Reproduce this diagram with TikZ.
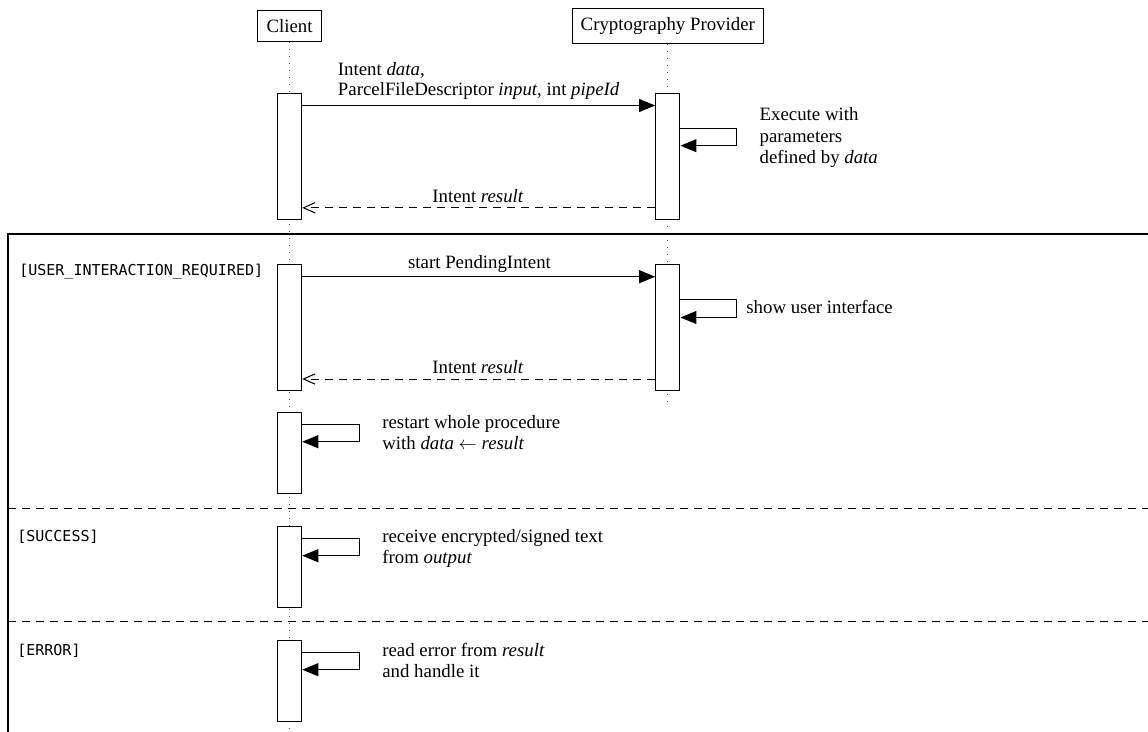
\documentclass[tikz,border=0pt]{standalone}
\usepackage{fontspec}
\setmainfont{Liberation Serif}
\setmonofont{DejaVu Sans Mono}
\usetikzlibrary{arrows.meta}
\begin{document}
\begin{tikzpicture}[x=0.6pt,y=-0.6pt,
  every node/.style={font=\fontsize{11.3}{12.3}\selectfont},
  actor/.style={draw, line width=0.6pt, inner xsep=5.2pt, inner ysep=5.4pt, fill=white},
  act/.style={draw, line width=0.6pt, fill=white, minimum width=14.6pt, inner sep=0pt},
  life/.style={line width=0.6pt, dash pattern=on 0.6pt off 3.6pt, black!70},
  msg/.style={line width=0.6pt, -{Triangle[length=9.6pt,width=7.8pt]}},
  ret/.style={line width=0.6pt, dash pattern=on 4.8pt off 3.6pt, -{Straight Barb[length=7pt,width=6.2pt]}},
  lbl/.style={inner sep=0pt, align=left, anchor=north west},
  txt/.style={inner sep=0pt, anchor=base west},
  guard/.style={inner sep=0pt, anchor=base west, font=\ttfamily\fontsize{9}{11}\selectfont},
  frame/.style={line width=1.1pt},
  sep/.style={line width=0.6pt, dash pattern=on 4.8pt off 3.6pt},
]
\path[use as bounding box] (0,0) rectangle (1148,732);
\clip (0,0) rectangle (1148,732);

% actors
\node[actor] (client) at (289.6,25.7) {Client};
\node[actor] (prov) at (667.8,25.8) {Cryptography Provider};

% lifelines
\coordinate (cend) at (289.6,740);
\coordinate (pend) at (667.8,401.7);
\draw[life] (client.south) -- (client.south |- cend);
\draw[life] (prov.south) -- (prov.south |- pend);

% combined fragment frame
\draw[frame] (8.3,234) rectangle (1170,760);
\draw[sep] (8.3,508.7) -- (1160,508.7);
\draw[sep] (8.3,621.8) -- (1160,621.8);

% activations
\node[act, minimum height=76pt] (a1) at (289.6,156.65) {};
\node[act, minimum height=76pt] (p1) at (667.8,156.65) {};
\node[act, minimum height=76pt] (a2) at (289.6,327.65) {};
\node[act, minimum height=76pt] (p2) at (667.8,327.65) {};
\node[act, minimum height=48.7pt] (a3) at (289.6,453.1) {};
\node[act, minimum height=48.2pt] (a4) at (289.6,566.85) {};
\node[act, minimum height=48.2pt] (a5) at (289.6,680.85) {};

% first exchange
\coordinate (m1) at (0,105.5);
\draw[msg] (a1.east |- m1) -- (p1.west |- m1);
\coordinate (s1) at (736.7,128.3);
\coordinate (s1b) at (736.7,145.7);
\draw[msg] (p1.east |- s1) -- (s1) -- (s1b) -- (p1.east |- s1b);
\coordinate (r1) at (0,207.8);
\draw[ret] (p1.west |- r1) -- (a1.east |- r1);

\node[lbl] (t1) at (337.6,60.5) {\strut Intent \textit{data},\\\strut ParcelFileDescriptor \textit{input}, int \textit{pipeId}};
\node[lbl, font=\fontsize{11.3}{12.9}\selectfont] (t3) at (759.3,105.3) {\strut Execute with\\\strut parameters\\\strut defined by \textit{data}};
\node[txt] (t2) at (432,202.3) {Intent \textit{result}};

% USER_INTERACTION_REQUIRED
\node[guard] (g1) at (19,276) {[USER\_INTERACTION\_REQUIRED]};
\coordinate (m2) at (0,276.7);
\draw[msg] (a2.east |- m2) -- (p2.west |- m2);
\coordinate (s2) at (736.7,300);
\coordinate (s2b) at (736.7,317.5);
\draw[msg] (p2.east |- s2) -- (s2) -- (s2b) -- (p2.east |- s2b);
\coordinate (r2) at (0,379);
\draw[ret] (p2.west |- r2) -- (a2.east |- r2);
\node[inner sep=0pt, anchor=base] (t4) at (479.5,268.3) {start PendingIntent};
\node[txt] (t5) at (746,314) {show user interface};
\node[txt] (t6) at (432,373.5) {Intent \textit{result}};

\coordinate (s3) at (359,424.3);
\coordinate (s3b) at (359,441.7);
\draw[msg] (a3.east |- s3) -- (s3) -- (s3b) -- (a3.east |- s3b);
\node[lbl] (t7) at (382,414) {\strut restart whole procedure\\\strut with \textit{data} $\leftarrow$ \textit{result}};

% SUCCESS
\node[guard] (g2) at (17,541.5) {[SUCCESS]};
\coordinate (s4) at (359,538.3);
\coordinate (s4b) at (359,555.7);
\draw[msg] (a4.east |- s4) -- (s4) -- (s4b) -- (a4.east |- s4b);
\node[lbl] (t8) at (382,528) {\strut receive encrypted/signed text\\\strut from \textit{output}};

% ERROR
\node[guard] (g3) at (17,655.5) {[ERROR]};
\coordinate (s5) at (359,652.3);
\coordinate (s5b) at (359,669.7);
\draw[msg] (a5.east |- s5) -- (s5) -- (s5b) -- (a5.east |- s5b);
\node[lbl] (t9) at (382,642) {\strut read error from \textit{result}\\\strut and handle it};
\end{tikzpicture}
\end{document}
